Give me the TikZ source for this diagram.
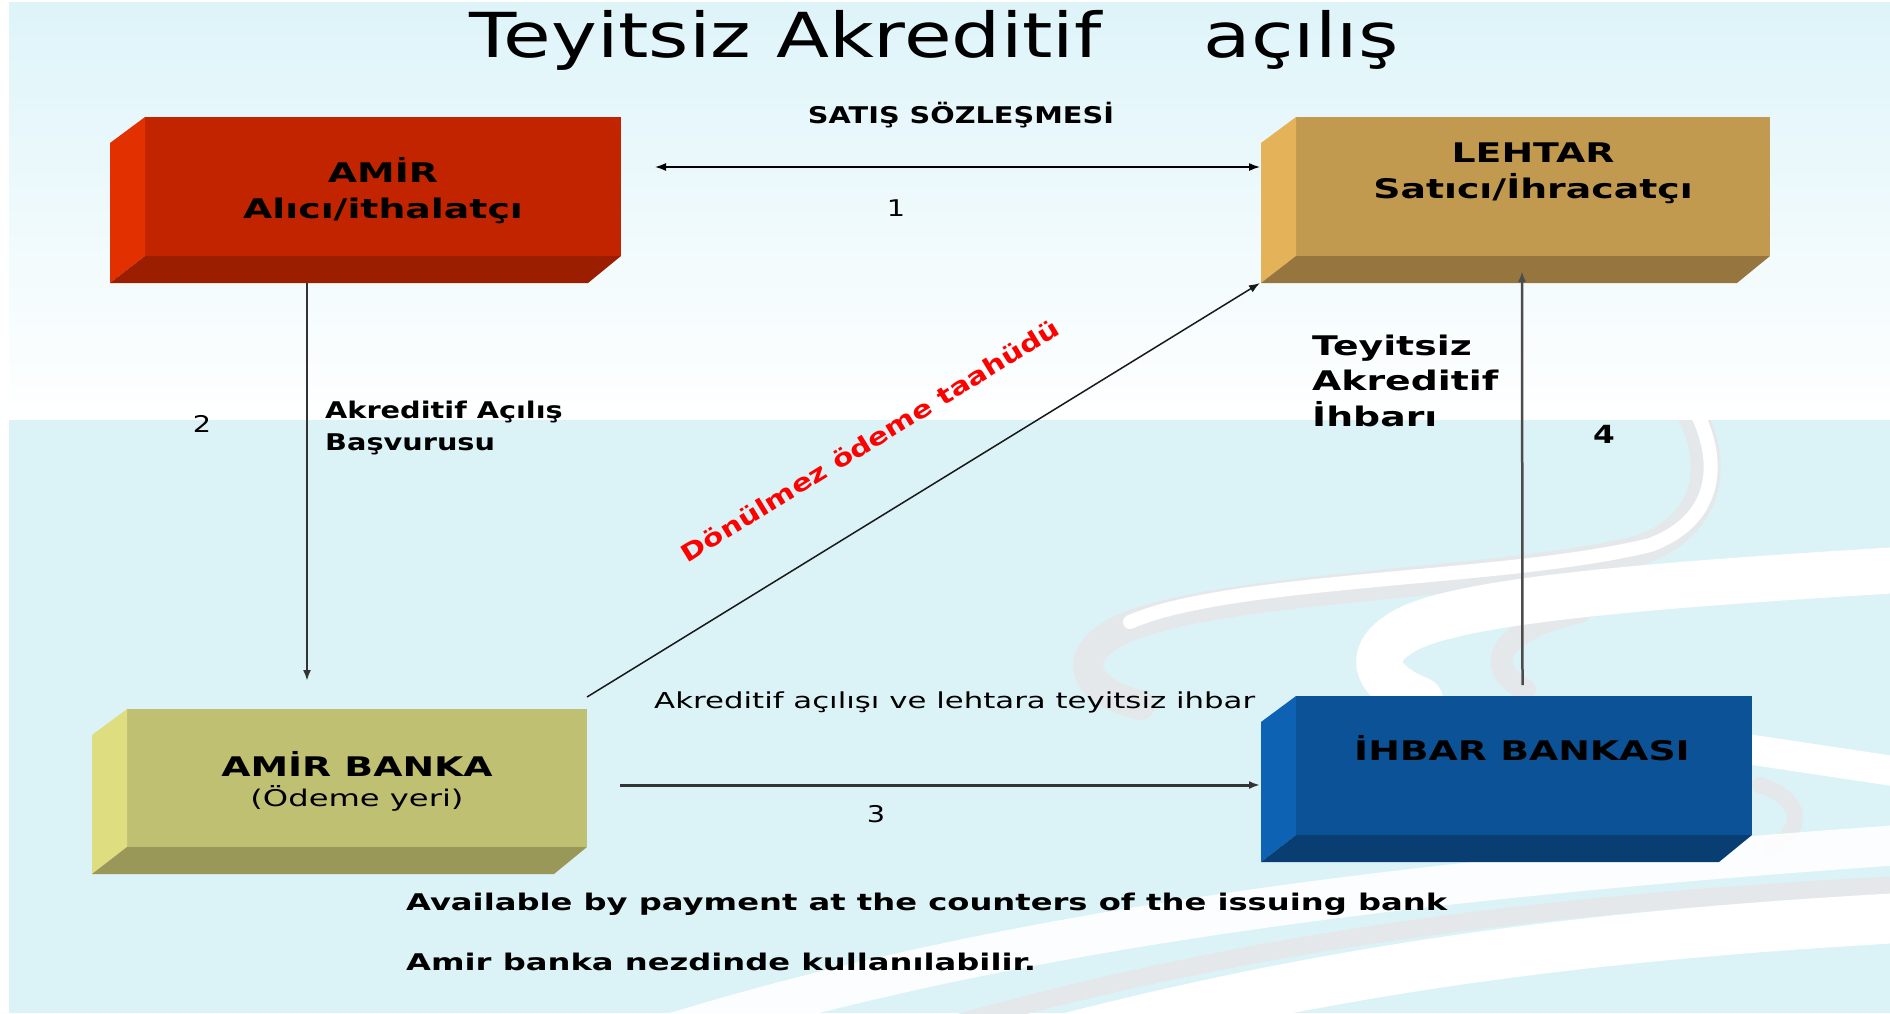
\documentclass[tikz,border=0pt]{standalone}
\usepackage{fontspec}
\setmainfont{DejaVu Sans}[FakeStretch=1.4]
\newfontfamily\fnarrow{DejaVu Sans}[FakeStretch=1.25]
\usetikzlibrary{arrows.meta,calc}
\definecolor{bgcyan}{RGB}{219,243,247}
\definecolor{topcyan}{RGB}{222,244,249}
\definecolor{swgray}{RGB}{229,232,235}
\definecolor{amirF}{RGB}{194,36,0}
\definecolor{amirS}{RGB}{226,48,0}
\definecolor{amirB}{RGB}{155,30,0}
\definecolor{lehF}{RGB}{193,154,80}
\definecolor{lehS}{RGB}{228,178,88}
\definecolor{lehB}{RGB}{150,118,62}
\definecolor{bankF}{RGB}{192,192,115}
\definecolor{bankS}{RGB}{222,222,128}
\definecolor{bankB}{RGB}{153,152,88}
\definecolor{ihbF}{RGB}{11,82,150}
\definecolor{ihbS}{RGB}{13,98,180}
\definecolor{ihbB}{RGB}{9,62,114}
\definecolor{redtxt}{RGB}{255,0,0}
\newcommand\boxfaces[3]{%
  \fill[#2] (#1.north west) -- ++(-35,26) -- ($(#1.south west)+(-35,27)$) -- (#1.south west) -- cycle;
  \fill[#3] (#1.south west) -- (#1.south east) -- ++(-33,27) -- ($(#1.south west)+(-35,27)$) -- cycle;
}
\tikzset{
  front/.style={anchor=north west, inner sep=0pt, outer sep=0pt},
  boxlbl/.style={anchor=base, inner sep=0pt, font=\bfseries\fontsize{27}{32}\selectfont},
  boxsub/.style={anchor=base, inner sep=0pt, font=\fontsize{23}{28}\selectfont},
  lbl/.style={anchor=base west, inner sep=0pt, font=\fnarrow\bfseries\fontsize{23}{28}\selectfont},
  biglbl/.style={anchor=base west, inner sep=0pt, font=\bfseries\fontsize{27}{32}\selectfont},
  num/.style={anchor=base, inner sep=0pt, font=\fnarrow\fontsize{23}{28}\selectfont},
  note/.style={anchor=base west, inner sep=0pt, font=\bfseries\fontsize{23}{28}\selectfont},
  tip/.style={-{Latex[length=11pt,width=8pt]}},
  rib/.style={line cap=round, draw=#1},
}
\begin{document}
\begin{tikzpicture}[x=1pt,y=-1pt]
\useasboundingbox (0,0) rectangle (1890,1013);
% background
\fill[white] (0,0) rectangle (1890,1013);
\shade[top color=topcyan, bottom color=white] (9,2) rectangle (1890,420);
\fill[bgcyan] (9,420) rectangle (1890,1013);
% decorative swooshes
\begin{scope}
\clip (9,420) rectangle (1890,1013);
\draw[rib=swgray, line width=30pt] (1684,400) .. controls (1722,460) and (1712,525) .. (1640,550) .. controls (1500,585) and (1220,585) .. (1120,630) .. controls (1070,655) and (1080,690) .. (1140,705);
\draw[rib=white, line width=14pt] (1690,400) .. controls (1725,460) and (1718,520) .. (1650,545) .. controls (1510,580) and (1230,578) .. (1130,622);
\draw[rib=swgray, line width=22pt] (1580,612) .. controls (1500,630) and (1480,665) .. (1525,690);
\draw[rib=white, line width=46pt] (1900,570) .. controls (1650,585) and (1470,600) .. (1410,628) .. controls (1365,650) and (1370,680) .. (1420,700);
\draw[rib=white, line width=30pt] (1740,748) -- (1900,772);
\draw[rib=swgray, line width=16pt] (1760,785) .. controls (1805,800) and (1805,830) .. (1770,850);
\draw[rib=white, opacity=.9, line width=40pt] (650,1040) .. controls (1000,930) and (1400,880) .. (1900,845);
\draw[rib=swgray, line width=18pt] (900,1040) .. controls (1200,950) and (1500,905) .. (1900,885);
\draw[rib=white, line width=50pt] (1060,1040) .. controls (1350,965) and (1600,935) .. (1900,918);
\end{scope}
% boxes
\node[front, fill=amirF, minimum width=476pt, minimum height=139pt] (amir) at (145,117) {};
\boxfaces{amir}{amirS}{amirB}
\node[front, fill=lehF, minimum width=474pt, minimum height=139pt] (leh) at (1296,117) {};
\boxfaces{leh}{lehS}{lehB}
\node[front, fill=bankF, minimum width=460pt, minimum height=138pt] (bank) at (127,709) {};
\boxfaces{bank}{bankS}{bankB}
\node[front, fill=ihbF, minimum width=456pt, minimum height=139pt] (ihb) at (1296,696) {};
\boxfaces{ihb}{ihbS}{ihbB}
% box texts
\node[boxlbl] (amirT1) at (383,182.6) {AMİR};
\node[boxlbl] (amirT2) at (383,218.8) {Alıcı/ithalatçı};
\node[boxlbl] (lehT1) at (1533,162.4) {LEHTAR};
\node[boxlbl] (lehT2) at (1533,198) {Satıcı/İhracatçı};
\node[boxlbl] (bankT1) at (357,776) {AMİR BANKA};
\node[boxsub] (bankT2) at (357,806.6) {(Ödeme yeri)};
\node[boxlbl] (ihbT1) at (1522,760) {İHBAR BANKASI};
% title
\node[anchor=base west, inner sep=0pt, font=\fnarrow\fontsize{62}{74}\selectfont] (title) at (469,57) {Teyitsiz Akreditif\hspace{102pt}açılış};
% connectors
\draw[line width=1.5pt, {Latex[length=11pt,width=8pt]}-{Latex[length=11pt,width=8pt]}] ($(amir.north east)+(34,50)$) -- ($(leh.north west)+(-36,50)$);
\draw[tip, line width=2pt, black!80] ($(amir.south west)+(162,27)$) -- ($(bank.north west)+(180,-28)$);
\draw[tip, line width=1.5pt, black!90] ($(bank.north east)+(0,-12)$) -- node[pos=.475, sloped, above=60pt, inner sep=0pt, font=\fnarrow\bfseries\fontsize{23.8}{28}\selectfont, text=redtxt] (redlbl) {Dönülmez ödeme taahüdü} ($(leh.south west)+(-36,27)$);
\draw[tip, line width=3pt, black!80] ($(bank.east)+(33,7)$) -- ($(ihb.west)+(-36,19.5)$);
\draw[tip, line width=2.5pt, black!70] ($(ihb.north)+(-1.5,-11)$) -- ($(leh.south)+(-11,15)$);
% labels
\node[anchor=base, inner sep=0pt, font=\fnarrow\bfseries\fontsize{23}{28}\selectfont] (satis) at (961,123) {SATIŞ SÖZLEŞMESİ};
\node[num] (n1) at (896,216.7) {1};
\node[num] (n2) at (202,432) {2};
\node[lbl] (basv1) at (325,418) {Akreditif Açılış};
\node[lbl] (basv2) at (325,450) {Başvurusu};
\node[biglbl] (ihbr1) at (1312,355) {Teyitsiz};
\node[biglbl] (ihbr2) at (1312,390) {Akreditif};
\node[biglbl] (ihbr3) at (1312,426) {İhbarı};
\node[anchor=base, inner sep=0pt, font=\fnarrow\bfseries\fontsize{25}{30}\selectfont] (n4) at (1604,443) {4};
\node[anchor=base west, inner sep=0pt, font=\fontsize{22}{26}\selectfont] (acilis) at (654,708) {Akreditif açılışı ve lehtara teyitsiz ihbar};
\node[num] (n3) at (876,822) {3};
\node[note] (avail) at (406,910) {Available by payment at the counters of the issuing bank};
\node[note] (nezd) at (406,970) {Amir banka nezdinde kullanılabilir.};
\end{tikzpicture}
\end{document}
